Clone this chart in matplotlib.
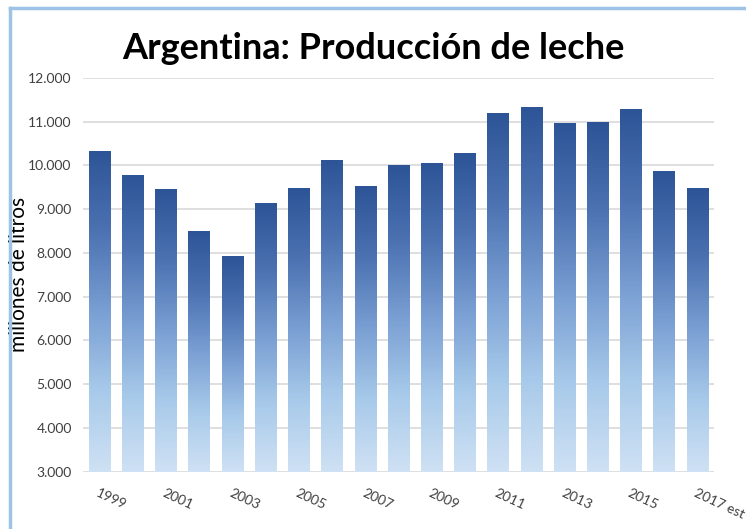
import numpy as np
import matplotlib.pyplot as plt
from matplotlib.colors import LinearSegmentedColormap
from matplotlib.lines import Line2D

# produccion anual, millones de litros
years = ['1999', '2000', '2001', '2002', '2003', '2004', '2005', '2006', '2007', '2008',
         '2009', '2010', '2011', '2012', '2013', '2014', '2015', '2016', '2017 est']
production = [10310, 9780, 9460, 8500, 7930, 9140, 9480, 10120, 9510, 9990,
              10050, 10280, 11180, 11320, 10950, 10990, 11280, 9870, 9480]
yticks = [3000, 4000, 5000, 6000, 7000, 8000, 9000, 10000, 11000, 12000]

fig = plt.figure(figsize=(7.46, 5.29), dpi=100)
fig.patch.set_facecolor('white')
ax = fig.add_axes([0.111, 0.108, 0.846, 0.745])

cmap = LinearSegmentedColormap.from_list(
    'leche', ['#2d5496', '#4c72b2', '#7a9fd3', '#a8caea', '#cfe1f4'])
grad = np.linspace(0, 1, 256).reshape(-1, 1)

x = np.arange(len(years))
width = 0.64
ybase = yticks[0]
for xi, val in zip(x, production):
    ax.imshow(grad, cmap=cmap, aspect='auto', origin='upper', interpolation='nearest',
              extent=(xi - width / 2, xi + width / 2, ybase, val), zorder=2)

ax.set_xlim(-0.5, len(years) - 0.5)
ax.set_ylim(yticks[0], yticks[-1])
ax.set_yticks(yticks)
ax.set_yticklabels([f'{v:,}'.replace(',', '.') for v in yticks],
                   fontsize=10, color='#404040', family='Lato')
ax.grid(axis='y', color='#d9d9d9', linewidth=1.2, zorder=0)
ax.set_axisbelow(True)
ax.tick_params(axis='y', length=0, pad=8)

ax.set_xticks(x[::2])
ax.set_xticklabels(years[::2], rotation=-25, ha='left', rotation_mode='anchor',
                   fontsize=10, color='#404040', family='Lato')
ax.tick_params(axis='x', length=0, pad=11)

for s in ax.spines.values():
    s.set_visible(False)

ax.set_ylabel('millones de litros', fontsize=15, family='Lato')
ax.yaxis.set_label_coords(-0.085, 0.5)

fig.text(0.5, 0.908, 'Argentina: Producción de leche', ha='center', va='center',
         fontsize=26, fontweight='bold', family='Lato')

# marco azul claro (izquierda y arriba)
fig.add_artist(Line2D([0.013, 0.013], [0.0, 0.985], color='#9dc3e6', lw=2.5,
                      transform=fig.transFigure))
fig.add_artist(Line2D([0.013, 1.0], [0.985, 0.985], color='#9dc3e6', lw=2.5,
                      transform=fig.transFigure))

fig.savefig('out.png', dpi=100)
